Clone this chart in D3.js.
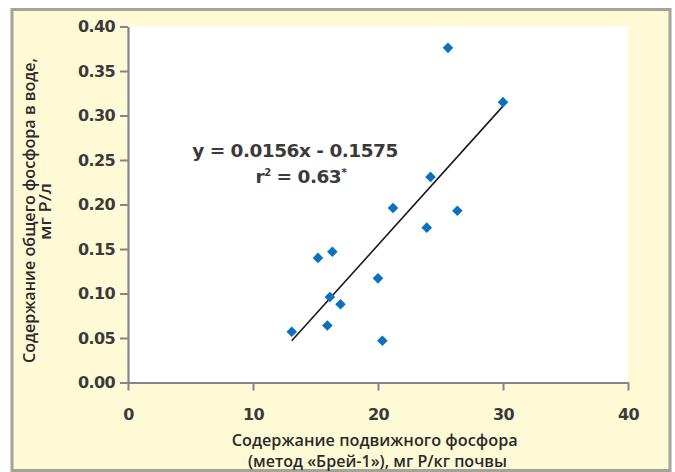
<!DOCTYPE html>
<html>
<head>
<meta charset="utf-8">
<script src="https://cdn.jsdelivr.net/npm/d3@7"></script>
<style>
  html, body { margin: 0; padding: 0; background: #ffffff; }
  svg { display: block; }
</style>
</head>
<body>
<svg id="chart" width="675" height="472"></svg>
<script>
// ---- data ----
const xValues = [25.6, 30.0, 24.2, 21.2, 26.35, 23.9, 15.2, 16.35, 20.0, 16.15, 17.0, 15.95, 13.1, 20.35];
const yValues = [0.376, 0.315, 0.231, 0.196, 0.193, 0.174, 0.140, 0.147, 0.117, 0.096, 0.088, 0.064, 0.057, 0.047];
const trendCoef = [0.0156, -0.1575]; // slope, intercept
const xTicks = [0, 10, 20, 30, 40];
const yTicks = [0, 0.05, 0.10, 0.15, 0.20, 0.25, 0.30, 0.35, 0.40];
const eqLabel = "y = 0.0156x - 0.1575";
const r2Label = ["r", "2", " = 0.63", "*"];
const xTitle = ["Содержание подвижного фосфора", "(метод «Брей-1»), мг Р/кг почвы"];
const yTitle = ["Содержание общего фосфора в воде,", "мг Р/л"];

// ---- layout ----
const svg = d3.select("#chart");
const pL = 128, pR = 628, pT = 26.5, pB = 382.5;
const x = d3.scaleLinear().domain([0, 40]).range([pL, pR]);
const y = d3.scaleLinear().domain([0, 0.4]).range([pB, pT]);
const textCol = "#3a3a3a";
const numFont = "'DejaVu Sans', sans-serif";
const titleFont = "'Open Sans', 'DejaVu Sans', sans-serif";

// frame
svg.append("rect").attr("x", 12).attr("y", 9.5).attr("width", 658).attr("height", 461)
  .attr("fill", "#fffad6").attr("stroke", "#a3a39a").attr("stroke-width", 3);

// plot area
svg.append("rect").attr("x", pL).attr("y", pT).attr("width", pR - pL).attr("height", pB - pT)
  .attr("fill", "#ffffff");

// axes
const yAxis = svg.append("g").attr("transform", `translate(${pL},0)`)
  .call(d3.axisLeft(y).tickValues(yTicks).tickFormat(d3.format(".2f")).tickSize(8).tickSizeOuter(0).tickPadding(5));
const xAxis = svg.append("g").attr("transform", `translate(0,${pB})`)
  .call(d3.axisBottom(x).tickValues(xTicks).tickFormat(d3.format("d")).tickSize(8).tickSizeOuter(0).tickPadding(18));
[xAxis, yAxis].forEach(a => {
  a.select(".domain").attr("stroke", "#858585").attr("stroke-width", 2.2);
  a.selectAll(".tick line").attr("stroke", "#858585").attr("stroke-width", 2);
  a.selectAll(".tick text").attr("fill", textCol).attr("font-family", numFont)
    .attr("font-size", 16).attr("font-weight", "bold").style("letter-spacing", "-0.6px");
});

// trend line
const xExt = d3.extent(xValues);
const lineGen = d3.line().x(d => x(d)).y(d => y(trendCoef[0] * d + trendCoef[1]));
svg.append("path").datum(xExt).attr("d", lineGen)
  .attr("stroke", "#1a1a1a").attr("stroke-width", 1.6).attr("fill", "none");

// points (diamonds)
svg.append("g").selectAll("path").data(d3.zip(xValues, yValues)).join("path")
  .attr("d", d3.symbol().type(d3.symbolSquare).size(56))
  .attr("transform", d => `translate(${x(d[0])},${y(d[1])}) rotate(45)`)
  .attr("fill", "#0b70c0");

// equation text
svg.append("text").attr("x", 295).attr("y", 156.5).attr("text-anchor", "middle")
  .attr("font-family", numFont).attr("font-size", 18.5).attr("font-weight", "bold")
  .style("letter-spacing", "-0.5px").attr("fill", textCol).text(eqLabel);
const r2 = svg.append("text").attr("x", 301).attr("y", 182.5).attr("text-anchor", "middle")
  .attr("font-family", numFont).attr("font-size", 18.5).attr("font-weight", "bold")
  .style("letter-spacing", "-0.5px").attr("fill", textCol);
r2.append("tspan").text(r2Label[0]);
r2.append("tspan").attr("font-size", 10).attr("dy", -7).text(r2Label[1]);
r2.append("tspan").attr("dy", 7).text(r2Label[2]);
r2.append("tspan").attr("font-size", 11).attr("dy", -7).text(r2Label[3]);

// x title
const xtW = [286, 259], xtC = [374.7, 377.5], xtY = [445.5, 467];
xTitle.forEach((t, i) => {
  svg.append("text").attr("x", xtC[i] - xtW[i] / 2).attr("y", xtY[i]).attr("text-anchor", "start")
    .attr("font-family", titleFont).attr("font-size", 16.5).attr("font-weight", 600)
    .attr("textLength", xtW[i]).attr("lengthAdjust", "spacingAndGlyphs")
    .attr("fill", "#2a2a2a").text(t);
});

// y title (rotated, drawn as start-anchored lines centred on the axis middle)
const ytW = [305, 57], ytX = [34.5, 50.5], ytC = [210.5, 211.5];
yTitle.forEach((t, i) => {
  svg.append("text")
    .attr("transform", `translate(${ytX[i]},${ytC[i] + ytW[i] / 2}) rotate(-90)`)
    .attr("x", 0).attr("y", 0).attr("text-anchor", "start")
    .attr("font-family", titleFont).attr("font-size", 15.5).attr("font-weight", 600)
    .attr("textLength", ytW[i]).attr("lengthAdjust", "spacingAndGlyphs")
    .attr("fill", "#2a2a2a").text(t);
});
</script>
</body>
</html>
